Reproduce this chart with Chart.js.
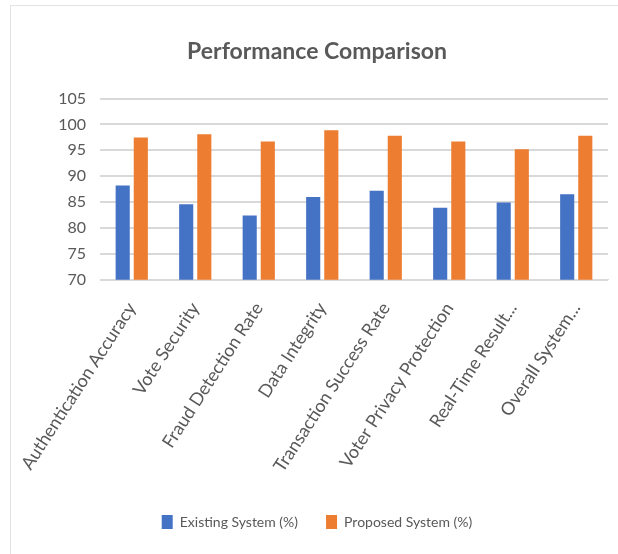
<!DOCTYPE html>
<html>
<head>
<meta charset="utf-8">
<script src="https://cdn.jsdelivr.net/npm/chart.js@4/dist/chart.umd.min.js"></script>
<style>
    html, body { margin: 0; padding: 0; background: #fff; }
    #wrap { position: relative; width: 618px; height: 554px; overflow: hidden; }
    #frame { position: absolute; left: 10px; top: 5px; width: 640px; height: 600px; border: 1px solid #e3e3e3; }
    canvas { position: absolute; left: 0; top: 0; }
</style>
</head>
<body>
<div id="wrap">
    <div id="frame"></div>
    <canvas id="PerformanceChart" width="618" height="554"></canvas>
</div>
<script>
// Categories and values
const categories = [
    'Authentication Accuracy',
    'Vote Security',
    'Fraud Detection Rate',
    'Data Integrity',
    'Transaction Success Rate',
    'Voter Privacy Protection',
    'Real-Time Result...',
    'Overall System...'
];
const existingSystem = [88.2, 84.6, 82.4, 86.0, 87.2, 83.9, 84.9, 86.5];
const proposedSystem = [97.5, 98.1, 96.7, 98.9, 97.8, 96.7, 95.2, 97.8];
const yTicks = [70, 75, 80, 85, 90, 95, 100, 105];

const textColor = '#595959';
const fontFamily = 'Lato, "Open Sans", sans-serif';

function createPerformanceChart(ctxId) {
    const ctx = document.getElementById(ctxId).getContext('2d');
    new Chart(ctx, {
        type: 'bar',
        data: {
            labels: categories,
            datasets: [
                {
                    label: 'Existing System (%)',
                    data: existingSystem,
                    backgroundColor: '#4472C4'
                },
                {
                    label: 'Proposed System (%)',
                    data: proposedSystem,
                    backgroundColor: '#ED7D31'
                }
            ]
        },
        options: {
            responsive: false,
            animation: false,
            layout: {
                padding: { left: 26, right: 10, top: 22, bottom: 15 }
            },
            datasets: {
                bar: {
                    categoryPercentage: 0.57,
                    barPercentage: 0.78
                }
            },
            plugins: {
                title: {
                    display: true,
                    text: 'Performance Comparison',
                    color: textColor,
                    font: { family: fontFamily, size: 23, weight: 'bold' },
                    padding: { top: 16, bottom: 33 }
                },
                legend: {
                    position: 'bottom',
                    labels: {
                        color: textColor,
                        font: { family: fontFamily, size: 14 },
                        boxWidth: 11,
                        boxHeight: 14,
                        padding: 28
                    }
                },
                tooltip: { enabled: false }
            },
            scales: {
                x: {
                    grid: { display: false },
                    border: { color: '#d9d9d9' },
                    afterFit: (scale) => {
                        // let the first rotated label run into the left margin, as in the original
                        scale.paddingLeft = 0;
                        scale.paddingRight = 0;
                    },
                    ticks: {
                        color: textColor,
                        font: { family: fontFamily, size: 18 },
                        minRotation: 57,
                        maxRotation: 57,
                        autoSkip: false,
                        padding: 11
                    }
                },
                y: {
                    min: 70,
                    max: 105,
                    afterBuildTicks: (axis) => {
                        axis.ticks = yTicks.map(v => ({ value: v }));
                    },
                    afterFit: (scale) => {
                        scale.width = 74;
                    },
                    grid: { color: '#d9d9d9', lineWidth: 2, drawTicks: false },
                    border: { display: false },
                    ticks: {
                        color: textColor,
                        font: { family: fontFamily, size: 16 },
                        padding: 14
                    }
                }
            }
        }
    });
}

createPerformanceChart('PerformanceChart');
</script>
</body>
</html>
